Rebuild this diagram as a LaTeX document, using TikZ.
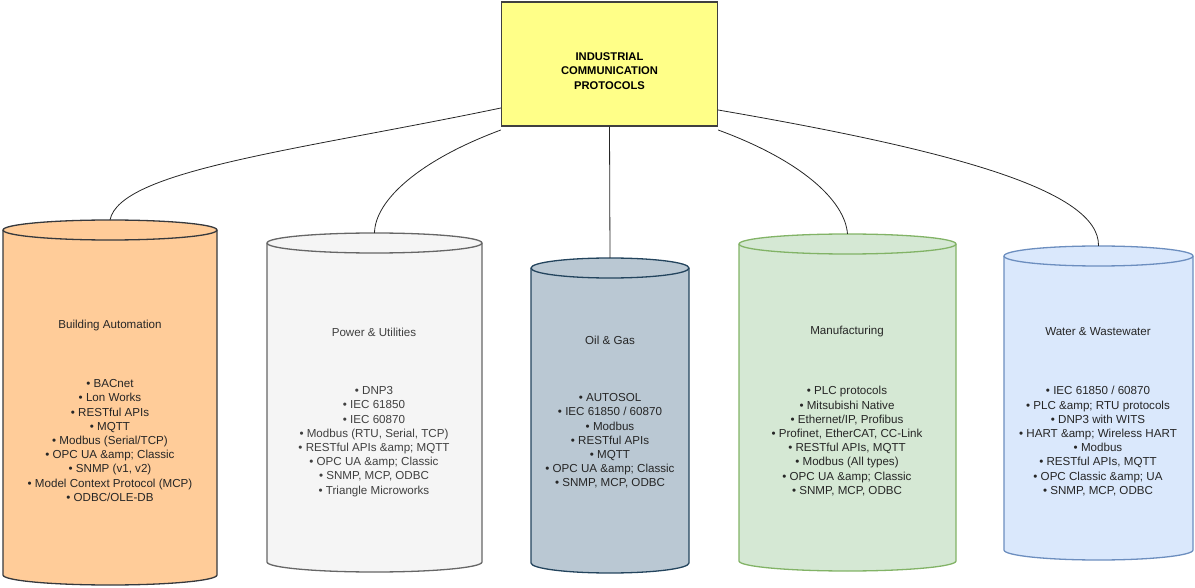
\documentclass[tikz,border=0pt]{standalone}
\usepackage{fontspec}
\setmainfont{Liberation Sans}
\begin{document}
\begin{tikzpicture}[x=1pt,y=-1pt,
  lbl/.style={font=\fontsize{11.6}{14.2}\selectfont,align=center,text=black!85},
  conn/.style={draw=black!85,line width=0.8pt}]
\useasboundingbox (0,0) rectangle (1195,588);
\definecolor{c1f}{HTML}{FFCC99}\definecolor{c1s}{HTML}{36393D}
\definecolor{c2f}{HTML}{F5F5F5}\definecolor{c2s}{HTML}{666666}
\definecolor{c3f}{HTML}{BAC8D3}\definecolor{c3s}{HTML}{23445D}
\definecolor{c4f}{HTML}{D5E8D4}\definecolor{c4s}{HTML}{82B366}
\definecolor{c5f}{HTML}{DAE8FC}\definecolor{c5s}{HTML}{6C8EBF}
\newcommand\mycyl[7]{% name x1 x2 ytopcenter ybotcenter fill stroke
  \pgfmathsetmacro\rx{(#3-#2)/2}
  \draw[fill=#6,draw=#7,line width=1.3pt] (#2,#4) -- (#2,#5) arc[start angle=180,end angle=0,x radius=\rx,y radius=10] -- (#3,#4) arc[start angle=0,end angle=-180,x radius=\rx,y radius=10] -- cycle;
  \draw[draw=#7,line width=1.3pt] (#2,#4) arc[start angle=180,end angle=0,x radius=\rx,y radius=10];
  \coordinate (#1) at ({(#2+#3)/2},#4-10);
}
\mycyl{a}{3}{217}{230}{575}{c1f}{c1s}
\mycyl{b}{267}{482}{243}{562}{c2f}{c2s}
\mycyl{c}{531}{689}{268}{563}{c3f}{c3s}
\mycyl{d}{739}{956}{244}{561}{c4f}{c4s}
\mycyl{e}{1004}{1193}{256}{550}{c5f}{c5s}
\node[draw=black!75,fill={rgb,255:red,255;green,255;blue,136},line width=1.3pt,minimum width=216pt,minimum height=124pt,inner sep=0pt] (top) at (609.5,64) {};
\node[font=\fontsize{11.2}{14.5}\selectfont\bfseries,align=center] (toptext) at (609.5,71) {INDUSTRIAL\\COMMUNICATION\\PROTOCOLS};
\draw[conn] (top.west|-0,108) .. controls (300,150) and (120,170) .. (a);
\draw[conn] (top.west|-0,130) .. controls (420,160) and (375,200) .. (b);
\draw[conn] (top.south) -- (c);
\draw[conn] (top.east|-0,130) .. controls (800,160) and (845,200) .. (d);
\draw[conn] (top.east|-0,110) .. controls (950,150) and (1100,190) .. (e);
\node[lbl] (ta) at (110,326) {Building Automation};
\node[lbl,anchor=north] (la) at (110,376) {• BACnet\\• Lon Works\\• RESTful APIs\\• MQTT\\• Modbus (Serial/TCP)\\• OPC UA \&amp; Classic\\• SNMP (v1, v2)\\• Model Context Protocol (MCP)\\• ODBC/OLE-DB};
\node[lbl,text=black!75] (tb) at (374,332) {Power \& Utilities};
\node[lbl,anchor=north,text=black!75] (lb) at (374,383) {• DNP3\\• IEC 61850\\• IEC 60870\\• Modbus (RTU, Serial, TCP)\\• RESTful APIs \&amp; MQTT\\• OPC UA \&amp; Classic\\• SNMP, MCP, ODBC\\• Triangle Microworks};
\node[lbl] (tc) at (610,340) {Oil \& Gas};
\node[lbl,anchor=north] (lc) at (610,390) {• AUTOSOL\\• IEC 61850 / 60870\\• Modbus\\• RESTful APIs\\• MQTT\\• OPC UA \&amp; Classic\\• SNMP, MCP, ODBC};
\node[lbl] (td) at (847,332) {Manufacturing};
\node[lbl,anchor=north] (ld) at (847,383) {• PLC protocols\\• Mitsubishi Native\\• Ethernet/IP, Profibus\\• Profinet, EtherCAT, CC-Link\\• RESTful APIs, MQTT\\• Modbus (All types)\\• OPC UA \&amp; Classic\\• SNMP, MCP, ODBC};
\node[lbl] (te) at (1098,332) {Water \& Wastewater};
\node[lbl,anchor=north] (le) at (1098,383) {• IEC 61850 / 60870\\• PLC \&amp; RTU protocols\\• DNP3 with WITS\\• HART \&amp; Wireless HART\\• Modbus\\• RESTful APIs, MQTT\\• OPC Classic \&amp; UA\\• SNMP, MCP, ODBC};
\end{tikzpicture}
\end{document}
